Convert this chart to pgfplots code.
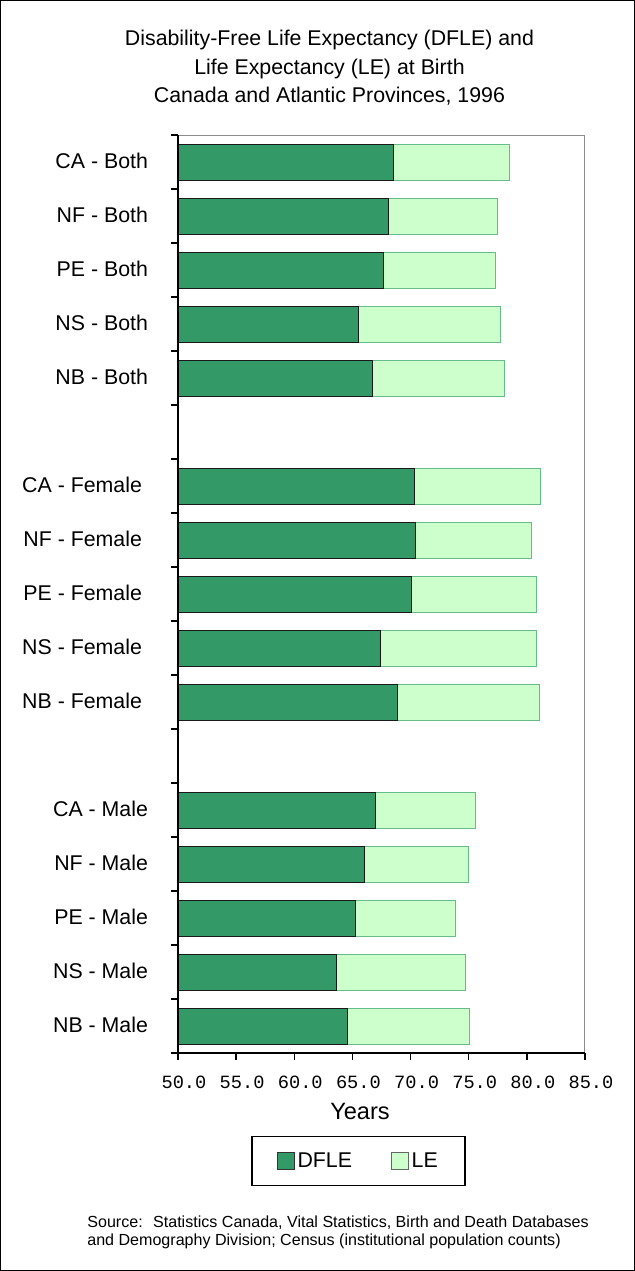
\documentclass[border=0pt]{standalone}
\usepackage{fontspec}
\setmainfont{Liberation Sans}
\newfontfamily\monofont{Liberation Mono}
\usepackage{pgfplots}
\usepackage{pgfplotstable}
\pgfplotsset{compat=1.18}
\definecolor{dfle}{RGB}{51,153,102}
\definecolor{lefill}{RGB}{204,255,204}
\definecolor{leedge}{RGB}{102,187,136}
\definecolor{framegray}{RGB}{140,140,140}

\pgfplotstableread{
pos DFLE LE
16 68.5 78.5
15 68.1 77.5
14 67.7 77.3
13 65.5 77.7
12 66.7 78.1
10 70.3 81.2
9 70.4 80.4
8 70.1 80.8
7 67.4 80.8
6 68.9 81.1
4 67.0 75.6
3 66.0 75.0
2 65.3 73.9
1 63.6 74.7
0 64.6 75.1
}\datatable

\begin{document}
\begin{tikzpicture}
\useasboundingbox (0,0) rectangle (476.25pt,-953.25pt);
\draw[line width=1pt] (0.5pt,-0.5pt) rectangle (475.75pt,-952.75pt);
\begin{scope}[every node/.style={anchor=base, font=\fontsize{16}{19}\selectfont}]
\node at (247.1pt,-33.75pt) {Disability-Free Life Expectancy (DFLE) and};
\node at (247.1pt,-55.5pt) {Life Expectancy (LE) at Birth};
\node at (247.1pt,-76.9pt) {Canada and Atlantic Provinces, 1996};
\end{scope}
\node[font=\fontsize{17.7}{21}\selectfont] at (270pt,-833.25pt) {Years};
\node[anchor=base west, font=\fontsize{12.05}{14}\selectfont] at (62pt,-920.25pt) {Source:~ Statistics Canada, Vital Statistics, Birth and Death Databases};
\node[anchor=base west, font=\fontsize{12.05}{14}\selectfont] at (62pt,-934.25pt) {and Demography Division; Census (institutional population counts)};
\begin{axis}[
  at={(133.5pt,-789.75pt)}, anchor=south west,
  scale only axis, width=305.25pt, height=688.5pt,
  xmin=50, xmax=85, ymin=-0.5, ymax=16.5,
  xbar stacked, bar width=27pt,
  axis on top,
  axis x line*=bottom, axis y line*=left,
  axis line style={line width=1.1pt, black},
  xtick={50,55,60,65,70,75,80,85},
  xticklabel={\pgfmathprintnumber[fixed,fixed zerofill,precision=1,assume math mode=true]{\tick}},
  x tick label style={font=\monofont\fontsize{14}{16}\selectfont, yshift=-9pt, xshift=4.5pt},
  ytick={-0.5,0.5,1.5,2.5,3.5,4.5,5.5,6.5,7.5,8.5,9.5,10.5,11.5,12.5,13.5,14.5,15.5,16.5},
  yticklabels={},
  tick align=outside, major tick length=5pt,
  tick style={black, line width=1pt},
  extra y ticks={0,1,2,3,4,6,7,8,9,10,12,13,14,15,16},
  extra y tick labels={NB - Male,NS - Male,PE - Male,NF - Male,CA - Male,NB - Female\kern4.5pt,NS - Female\kern4.5pt,PE - Female\kern4.5pt,NF - Female\kern4.5pt,CA - Female\kern4.5pt,NB - Both,NS - Both,PE - Both,NF - Both,CA - Both},
  extra y tick style={major tick length=0pt, yticklabel style={font=\fontsize{16}{19}\selectfont, anchor=east, xshift=-19pt, yshift=1pt}},
  legend columns=2,
  legend style={at={(axis description cs:0.4435,-0.1176)}, anchor=center, draw=black, line width=1pt,
    font=\fontsize{16}{19}\selectfont, inner xsep=18.5pt, inner ysep=10pt,
    /tikz/every even column/.append style={column sep=27pt}},
  legend image code/.code={\draw[#1, line width=0.75pt] (0pt,-6.5pt) rectangle (13pt,6.5pt);},
]
\addlegendimage{fill=dfle, draw=black!80}
\addlegendentry{DFLE}
\addlegendimage{fill=lefill, draw=black!60}
\addlegendentry{LE}
\addplot[forget plot, fill=dfle, draw=black!90, line width=0.75pt] table[x=DFLE, y=pos] {\datatable};
\addplot[forget plot, fill=lefill, draw=leedge, line width=0.75pt] table[x expr=\thisrow{LE}-\thisrow{DFLE}, y=pos] {\datatable};
\draw[framegray, line width=1.1pt] (axis description cs:0,1) -- (axis description cs:1,1) -- (axis description cs:1,0);
\end{axis}
\end{tikzpicture}
\end{document}
